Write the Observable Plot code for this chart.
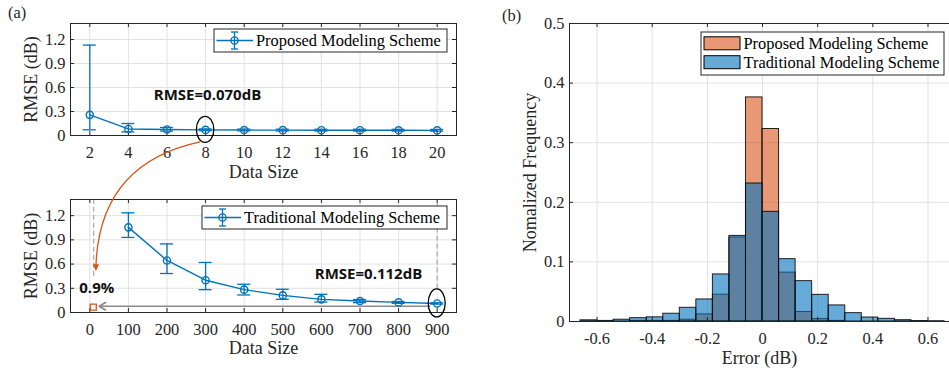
<!DOCTYPE html>
<html><head><meta charset="utf-8">
<script src="https://cdn.jsdelivr.net/npm/d3@7"></script>
<script src="https://cdn.jsdelivr.net/npm/@observablehq/plot@0.6"></script>
<style>
html,body{margin:0;padding:0;background:#fff;}
#root{position:relative;width:949px;height:371px;overflow:hidden;background:#fff;}
#root > svg{position:absolute;}
</style></head><body>
<div id="root"></div>
<script>
// ---------- data ----------
const proposedSize = [2, 4, 6, 8, 10, 12, 14, 16, 18, 20];
const proposedRmse = [0.258, 0.082, 0.075, 0.070, 0.068, 0.067, 0.066, 0.066, 0.065, 0.064];
const proposedLow  = [0.071, 0.045, 0.055, 0.060, 0.058, 0.057, 0.056, 0.056, 0.055, 0.054];
const proposedHigh = [1.130, 0.150, 0.100, 0.082, 0.080, 0.079, 0.078, 0.078, 0.077, 0.076];

const traditionalSize = [100, 200, 300, 400, 500, 600, 700, 800, 900];
const traditionalRmse = [1.055, 0.645, 0.400, 0.283, 0.212, 0.163, 0.142, 0.125, 0.112];
const traditionalLow  = [0.930, 0.483, 0.283, 0.217, 0.163, 0.130, 0.122, 0.113, 0.104];
const traditionalHigh = [1.235, 0.850, 0.620, 0.350, 0.288, 0.225, 0.160, 0.136, 0.120];

const upperXTicks = [2, 4, 6, 8, 10, 12, 14, 16, 18, 20];
const upperXLabels = ["2", "4", "6", "8", "10", "12", "14", "16", "18", "20"];
const lowerXTicks = [0, 100, 200, 300, 400, 500, 600, 700, 800, 900];
const lowerXLabels = ["0", "100", "200", "300", "400", "500", "600", "700", "800", "900"];
const rmseYTicks = [0, 0.3, 0.6, 0.9, 1.2];
const rmseYLabels = ["0", "0.3", "0.6", "0.9", "1.2"];

const binEdges = [-0.66, -0.60, -0.54, -0.48, -0.42, -0.36, -0.30, -0.24, -0.18, -0.12, -0.06, 0,
                  0.06, 0.12, 0.18, 0.24, 0.30, 0.36, 0.42, 0.48, 0.54, 0.60, 0.66];
const proposedFreq = [0, 0, 0, 0.001, 0.001, 0.001, 0.003, 0.012, 0.045, 0.141, 0.376, 0.323,
                      0.082, 0.016, 0.004, 0.001, 0, 0, 0, 0, 0, 0];
const traditionalFreq = [0.002, 0.001, 0.003, 0.0056, 0.007, 0.013, 0.023, 0.037, 0.079, 0.1436, 0.2315, 0.184,
                         0.1046, 0.0677, 0.0447, 0.027, 0.014, 0.0067, 0.0045, 0.0022, 0.0008, 0.0005];
const histXTicks = [-0.6, -0.4, -0.2, 0, 0.2, 0.4, 0.6];
const histXLabels = ["-0.6", "-0.4", "-0.2", "0", "0.2", "0.4", "0.6"];
const histYTicks = [0, 0.1, 0.2, 0.3, 0.4, 0.5];
const histYLabels = ["0", "0.1", "0.2", "0.3", "0.4", "0.5"];

const proposedName = "Proposed Modeling Scheme";
const traditionalName = "Traditional Modeling Scheme";

// ---------- styles ----------
const SERIF = "'Liberation Serif', 'Times New Roman', serif";
const SANS = "'Open Sans', 'Liberation Sans', sans-serif";
const AX = "#262626";
const GRID = "#e2e2e2";
const BLUE = "#0072BD";
const ORANGE = "#D95319";
const TICK_FS = 16.4, LABEL_FS = 18;

function axesMarks(xTicks, xLabels, yTicks, yLabels, pw, ph, xTitle, yTitle, opts = {}) {
  const marks = [];
  marks.push(Plot.tickX(xTicks, {x: d => d, insetTop: ph - 4, stroke: AX}));
  marks.push(Plot.tickX(xTicks, {x: d => d, insetBottom: ph - 4, stroke: AX}));
  marks.push(Plot.tickY(yTicks, {y: d => d, insetRight: pw - 4, stroke: AX}));
  if (!opts.noRight) marks.push(Plot.tickY(yTicks, {y: d => d, insetLeft: pw - 4, stroke: AX}));
  marks.push(Plot.text(xTicks, {x: d => d, text: (d, i) => xLabels[i], frameAnchor: "bottom", dy: 17, textAnchor: "middle", lineAnchor: "middle", fill: AX, fontSize: TICK_FS}));
  marks.push(Plot.text(yTicks, {y: d => d, text: (d, i) => yLabels[i], frameAnchor: "left", dx: -5, textAnchor: "end", lineAnchor: "middle", fill: AX, fontSize: TICK_FS}));
  marks.push(Plot.text([xTitle], {text: d => d, frameAnchor: "bottom", dy: opts.xTitleDy ?? 37, textAnchor: "middle", lineAnchor: "middle", fill: AX, fontSize: LABEL_FS}));
  marks.push(Plot.text([yTitle], {text: d => d, frameAnchor: "left", rotate: -90, dx: opts.yTitleDx ?? -39.5, textAnchor: "middle", lineAnchor: "middle", fill: AX, fontSize: LABEL_FS}));
  return marks;
}

function seriesMarks(size, rmse, lo, hi) {
  const pts = size.map((x, i) => ({x, y: rmse[i], lo: lo[i], hi: hi[i]}));
  return [
    Plot.ruleX(pts, {x: "x", y1: "lo", y2: "hi", stroke: BLUE, strokeWidth: 1.3}),
    Plot.ruleY(pts, {y: "hi", x1: "x", x2: "x", insetLeft: -6.5, insetRight: -6.5, stroke: BLUE, strokeWidth: 1.3}),
    Plot.ruleY(pts, {y: "lo", x1: "x", x2: "x", insetLeft: -6.5, insetRight: -6.5, stroke: BLUE, strokeWidth: 1.3}),
    Plot.line(pts, {x: "x", y: "y", stroke: BLUE, strokeWidth: 1.4}),
    Plot.dot(pts, {x: "x", y: "y", r: 3.6, stroke: BLUE, fill: "none", strokeWidth: 1.4})
  ];
}

const baseStyle = {fontFamily: SERIF, fontSize: TICK_FS + "px", color: AX, background: "transparent", overflow: "visible"};

// ---------- upper plot ----------
const U = {w: 470, h: 185, ml: 70, mr: 14, mt: 23, mb: 50};
const upper = Plot.plot({
  width: U.w, height: U.h, marginLeft: U.ml, marginRight: U.mr, marginTop: U.mt, marginBottom: U.mb,
  style: baseStyle,
  x: {domain: [1, 21], axis: null},
  y: {domain: [0, 1.4], axis: null},
  marks: [
    Plot.ruleX(upperXTicks, {stroke: GRID}),
    Plot.ruleY(rmseYTicks, {stroke: GRID}),
    ...axesMarks(upperXTicks, upperXLabels, rmseYTicks, rmseYLabels, U.w - U.ml - U.mr, U.h - U.mt - U.mb, "Data Size", "RMSE (dB)"),
    Plot.frame({stroke: AX}),
    ...seriesMarks(proposedSize, proposedRmse, proposedLow, proposedHigh),
    Plot.text([{x: 8.1, y: 0.5, t: "RMSE=0.070dB"}], {x: "x", y: "y", text: "t", fontFamily: SANS, fontWeight: "bold", fontSize: 15, fill: "#111"})
  ]
});
upper.style.left = "0px"; upper.style.top = "0px";

// ---------- lower plot ----------
const L = {w: 470, h: 186, ml: 70, mr: 14, mt: 14, mb: 59, top: 185};
const lower = Plot.plot({
  width: L.w, height: L.h, marginLeft: L.ml, marginRight: L.mr, marginTop: L.mt, marginBottom: L.mb,
  style: baseStyle,
  x: {domain: [-50, 950], axis: null},
  y: {domain: [0, 1.4], axis: null},
  marks: [
    Plot.ruleX(lowerXTicks, {stroke: GRID}),
    Plot.ruleY(rmseYTicks, {stroke: GRID}),
    Plot.ruleX([10], {y1: 0.45, y2: 1.4, stroke: "#a8a8a8", strokeDasharray: "5,3", strokeWidth: 1.2}),
    Plot.ruleX([900], {y1: 0.29, y2: 1.4, stroke: "#a8a8a8", strokeDasharray: "5,3", strokeWidth: 1.2}),
    ...axesMarks(lowerXTicks, lowerXLabels, rmseYTicks, rmseYLabels, L.w - L.ml - L.mr, L.h - L.mt - L.mb, "Data Size", "RMSE (dB)", {xTitleDy: 36}),
    Plot.frame({stroke: AX}),
    Plot.arrow([{x1: 880, x2: 24, y: 0.078}], {x1: "x1", x2: "x2", y1: "y", y2: "y", stroke: "#8a8a8a", strokeWidth: 1.6, headLength: 7}),
    ...seriesMarks(traditionalSize, traditionalRmse, traditionalLow, traditionalHigh),
    Plot.dot([{x: 9, y: 0.066}], {x: "x", y: "y", symbol: "square", r: 3.4, stroke: ORANGE, fill: "none", strokeWidth: 1.3}),
    Plot.text([{x: 18, y: 0.30, t: "0.9%"}], {x: "x", y: "y", text: "t", fontFamily: SANS, fontWeight: "bold", fontSize: 15, fill: "#111"}),
    Plot.text([{x: 722, y: 0.48, t: "RMSE=0.112dB"}], {x: "x", y: "y", text: "t", fontFamily: SANS, fontWeight: "bold", fontSize: 15, fill: "#111"})
  ]
});
lower.style.left = "0px"; lower.style.top = L.top + "px";

// ---------- histogram ----------
const R = {w: 459, h: 371, ml: 79, mr: 0, mt: 23, mb: 50, left: 490};
const propBins = proposedFreq.map((v, i) => ({x1: binEdges[i], x2: binEdges[i + 1], v}));
const tradBins = traditionalFreq.map((v, i) => ({x1: binEdges[i], x2: binEdges[i + 1], v}));
const RW = R.w - R.ml - R.mr, RH = R.h - R.mt - R.mb;
const hist = Plot.plot({
  width: R.w, height: R.h, marginLeft: R.ml, marginRight: R.mr, marginTop: R.mt, marginBottom: R.mb,
  style: baseStyle,
  x: {domain: [-0.7, 0.678], axis: null},
  y: {domain: [0, 0.5], axis: null},
  marks: [
    Plot.ruleX(histXTicks, {stroke: GRID}),
    Plot.ruleY(histYTicks, {stroke: GRID}),
    Plot.rect(propBins, {x1: "x1", x2: "x2", y1: 0, y2: "v", fill: ORANGE, fillOpacity: 0.6, stroke: "#000", strokeWidth: 1, strokeOpacity: 0.85}),
    Plot.rect(tradBins, {x1: "x1", x2: "x2", y1: 0, y2: "v", fill: BLUE, fillOpacity: 0.6, stroke: "#000", strokeWidth: 1, strokeOpacity: 0.85}),
    ...axesMarks(histXTicks, histXLabels, histYTicks, histYLabels, RW, RH, "Error (dB)", "Nomalized Frequency", {noRight: true, yTitleDx: -39}),
    Plot.ruleX([-0.7], {stroke: AX}),
    Plot.ruleY([0, 0.5], {stroke: AX})
  ]
});
hist.style.left = R.left + "px"; hist.style.top = "0px";

const root = document.getElementById("root");
root.appendChild(upper);
root.appendChild(lower);
root.appendChild(hist);

// ---------- overlay: panel tags, legends, connecting annotation ----------
const xU = v => upper.scale("x").apply(v);
const yU = v => upper.scale("y").apply(v);
const xL = v => lower.scale("x").apply(v);
const yL = v => lower.scale("y").apply(v) + L.top;

const ov = d3.select(root).append("svg")
  .attr("width", 949).attr("height", 371)
  .style("left", "0px").style("top", "0px").style("pointer-events", "none")
  .style("font-family", SERIF);

ov.append("defs").append("marker")
  .attr("id", "oh").attr("viewBox", "0 0 10 10").attr("refX", 9).attr("refY", 5)
  .attr("markerWidth", 5).attr("markerHeight", 5).attr("orient", "auto")
  .append("path").attr("d", "M0,0 L10,5 L0,10 z").attr("fill", ORANGE);

ov.append("text").attr("x", 8).attr("y", 18).attr("font-size", 16.4).attr("fill", AX).text("(a)");
ov.append("text").attr("x", 502).attr("y", 21).attr("font-size", 16.4).attr("fill", AX).text("(b)");

function lineLegend(x, y, w, h, label) {
  const g = ov.append("g");
  g.append("rect").attr("x", x).attr("y", y).attr("width", w).attr("height", h)
    .attr("fill", "#fff").attr("stroke", AX).attr("stroke-width", 1);
  const cy = y + h / 2, lx0 = x + 2.5, lx1 = x + 39, cx = x + 20.5;
  g.append("line").attr("x1", lx0).attr("x2", lx1).attr("y1", cy).attr("y2", cy).attr("stroke", BLUE).attr("stroke-width", 1.4);
  g.append("line").attr("x1", cx).attr("x2", cx).attr("y1", cy - 8.5).attr("y2", cy + 8.5).attr("stroke", BLUE).attr("stroke-width", 1.3);
  g.append("line").attr("x1", cx - 3.5).attr("x2", cx + 3.5).attr("y1", cy - 8.5).attr("y2", cy - 8.5).attr("stroke", BLUE).attr("stroke-width", 1.3);
  g.append("line").attr("x1", cx - 3.5).attr("x2", cx + 3.5).attr("y1", cy + 8.5).attr("y2", cy + 8.5).attr("stroke", BLUE).attr("stroke-width", 1.3);
  g.append("circle").attr("cx", cx).attr("cy", cy).attr("r", 3.6).attr("fill", "none").attr("stroke", BLUE).attr("stroke-width", 1.4);
  g.append("text").attr("x", x + 42).attr("y", cy).attr("dy", "0.34em").attr("font-size", 16.4).attr("fill", "#000").text(label);
}
lineLegend(214, 29, 233, 23, proposedName);
lineLegend(202, 206, 245, 23, traditionalName);

// histogram legend
{
  const g = ov.append("g");
  g.append("rect").attr("x", 701).attr("y", 32).attr("width", 243).attr("height", 43)
    .attr("fill", "#fff").attr("stroke", AX).attr("stroke-width", 1);
  const rows = [[proposedName, ORANGE, 43.3], [traditionalName, BLUE, 62.2]];
  for (const [name, col, cy] of rows) {
    g.append("rect").attr("x", 704).attr("y", cy - 6.5).attr("width", 36).attr("height", 13)
      .attr("fill", col).attr("fill-opacity", 0.6).attr("stroke", "#000").attr("stroke-width", 1);
    g.append("text").attr("x", 743.5).attr("y", cy).attr("dy", "0.34em").attr("font-size", 16.4).attr("fill", "#000").text(name);
  }
}

// ellipses around highlighted points
ov.append("ellipse").attr("cx", xU(8)).attr("cy", yU(0.07)).attr("rx", 8.7).attr("ry", 13)
  .attr("fill", "none").attr("stroke", "#000").attr("stroke-width", 1.3);
ov.append("ellipse").attr("cx", xL(900)).attr("cy", yL(0.112)).attr("rx", 8.5).attr("ry", 14)
  .attr("fill", "none").attr("stroke", "#000").attr("stroke-width", 1.3);

// orange connector from upper highlighted point to the lower chart
{
  const sx = xU(8) - 5, sy = yU(0.07) + 12.5;
  const ex = xL(17), ey = yL(0.52);
  ov.append("path")
    .attr("d", `M${sx},${sy} C${sx - 70},${sy + 15} ${ex + 1},${ey - 70} ${ex},${ey}`)
    .attr("fill", "none").attr("stroke", ORANGE).attr("stroke-width", 1.3)
    .attr("marker-end", "url(#oh)");
}
</script>
</body></html>
